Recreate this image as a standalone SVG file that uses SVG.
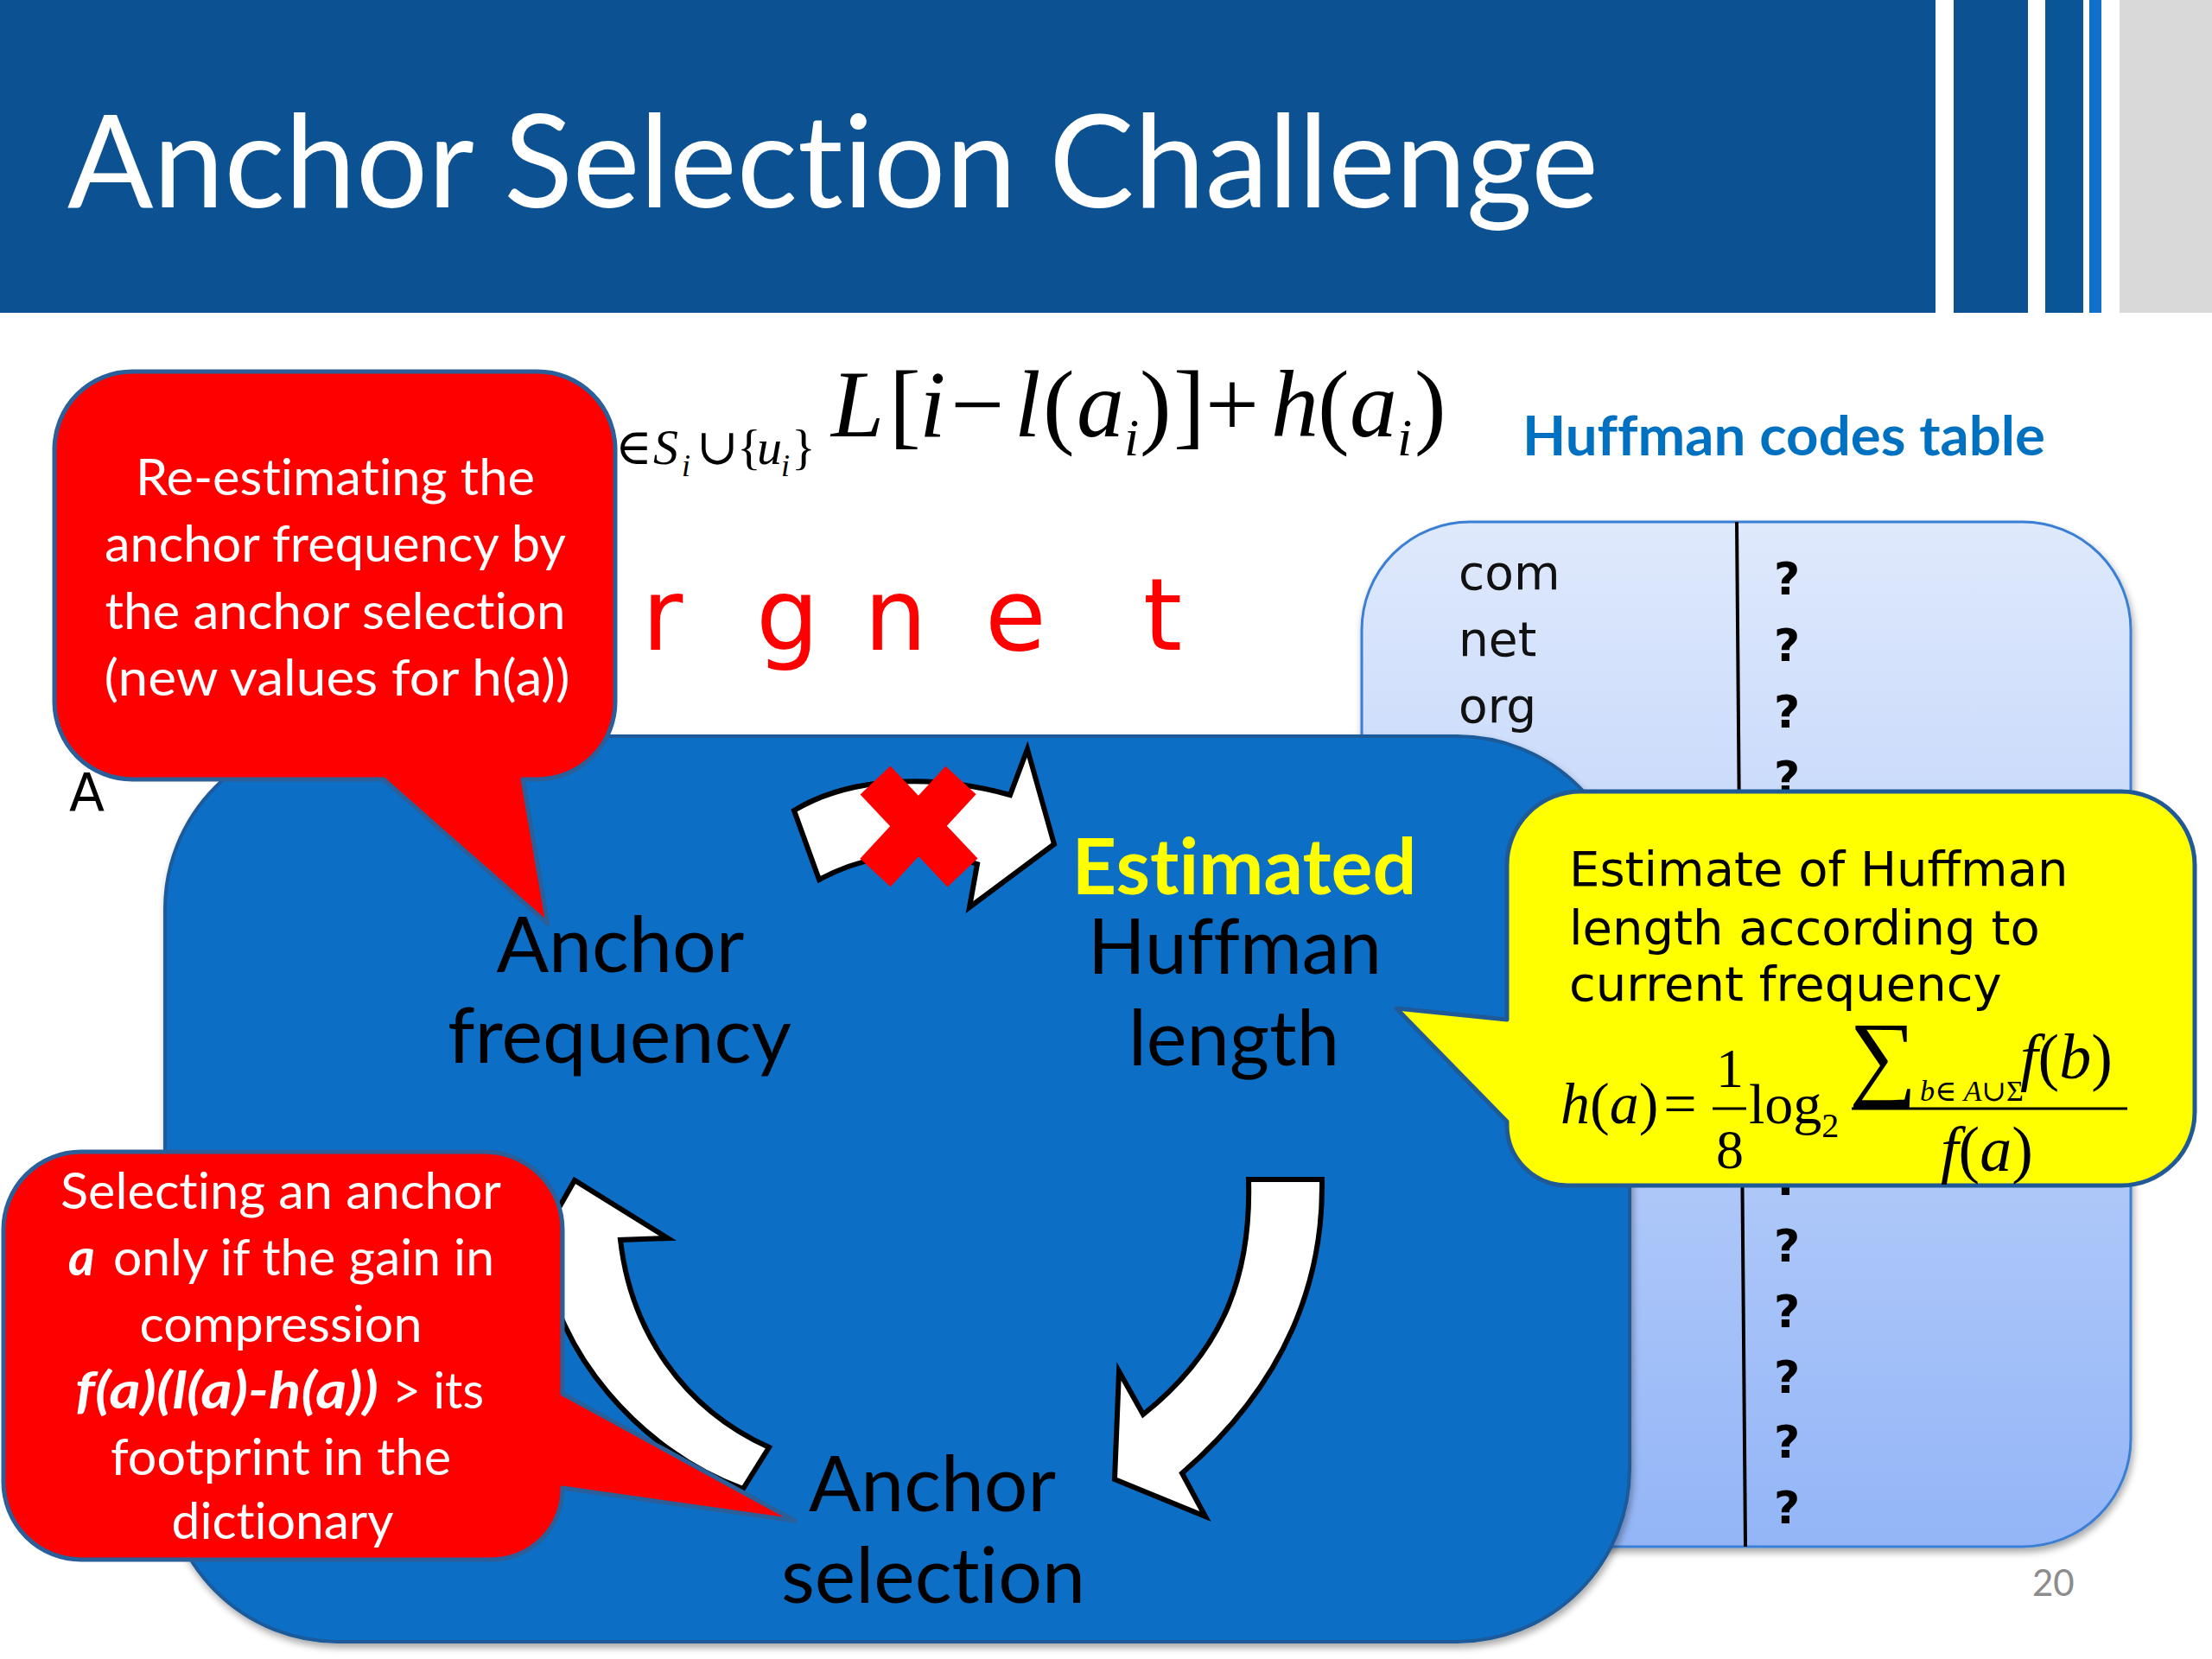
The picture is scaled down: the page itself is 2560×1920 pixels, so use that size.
<svg xmlns="http://www.w3.org/2000/svg" width="2560" height="1920" viewBox="0 0 2560 1920">
<defs>
<linearGradient id="tblGrad" x1="0" y1="0" x2="0" y2="1">
<stop offset="0" stop-color="#dfe9fc"/>
<stop offset="1" stop-color="#93b5f7"/>
</linearGradient>
<filter id="shadow" x="-5%" y="-5%" width="110%" height="110%">
<feGaussianBlur in="SourceAlpha" stdDeviation="4"/>
<feOffset dx="2" dy="5" result="b"/>
<feComponentTransfer><feFuncA type="linear" slope="0.35"/></feComponentTransfer>
<feMerge><feMergeNode/><feMergeNode in="SourceGraphic"/></feMerge>
</filter>
<style>
.cal{font-family:Lato,'Open Sans',sans-serif;font-variant-ligatures:none}
.ver{font-family:'DejaVu Sans',Verdana,sans-serif}
.mth{font-family:'Liberation Serif','Times New Roman','DejaVu Serif',serif}
.it{font-style:italic}
.big{font-size:89px;fill:#000}
.call{font-size:59px;fill:#fff}
.q{font-family:'DejaVu Sans',sans-serif;font-weight:bold;font-size:52px;fill:#000}
.lab{font-size:55px;fill:#111}
.arrow{fill:#fff;stroke:#000;stroke-width:6;stroke-linejoin:miter}
.redc{fill:#ff0000;stroke:#2a5f99;stroke-width:5;stroke-linejoin:round}
</style>
</defs>
<rect width="2560" height="1920" fill="#fff"/>

<g id="header">
<rect x="0" y="0" width="2240" height="362" fill="#0c5292"/>
<rect x="2261" y="0" width="86" height="362" fill="#0c5292"/>
<rect x="2367" y="0" width="44" height="362" fill="#0a5596"/>
<rect x="2418" y="0" width="14" height="362" fill="#1170cc"/>
<rect x="2453" y="0" width="107" height="362" fill="#d9d9d9"/>
<text class="cal" x="78" y="240" font-size="150" fill="#fff" textLength="1772" lengthAdjust="spacingAndGlyphs">Anchor Selection Challenge</text>
</g>

<g id="formula-top" class="mth" fill="#000">
<text y="537" font-size="58"><tspan x="712">∈</tspan><tspan x="756" class="it">S</tspan><tspan x="789" dy="14" font-size="36" class="it">i</tspan><tspan x="806" dy="-14">∪</tspan><tspan x="853">{</tspan><tspan x="876" class="it">u</tspan><tspan x="904" dy="14" font-size="36" class="it">i</tspan><tspan x="916" dy="-14">}</tspan></text>
<text y="505" font-size="110"><tspan x="962" class="it">L</tspan><tspan x="1029">[</tspan><tspan x="1064" class="it">i</tspan><tspan x="1100">−</tspan><tspan x="1174" class="it">l</tspan><tspan x="1207">(</tspan><tspan x="1246" class="it">a</tspan><tspan x="1301" dy="22" font-size="62" class="it">i</tspan><tspan x="1319" dy="-22">)</tspan><tspan x="1358">]</tspan><tspan x="1395">+</tspan><tspan x="1471" class="it">h</tspan><tspan x="1525">(</tspan><tspan x="1562" class="it">a</tspan><tspan x="1617" dy="22" font-size="62" class="it">i</tspan><tspan x="1637" dy="-22">)</tspan></text>
</g>

<g id="table-title">
<text class="cal" x="1762" y="527" font-size="64" font-weight="bold" fill="#0070c0" textLength="605" lengthAdjust="spacingAndGlyphs">Huffman codes table</text>
</g>

<g id="huffman-table">
<rect x="1576" y="604" width="890" height="1186" rx="125" ry="125" fill="url(#tblGrad)" stroke="#3b7fd4" stroke-width="3" filter="url(#shadow)"/>
<line x1="2010" y1="604" x2="2020" y2="1790" stroke="#000" stroke-width="4"/>
<text class="ver lab" x="1688" y="682">com</text>
<text class="ver lab" x="1688" y="759">net</text>
<text class="ver lab" x="1688" y="836">org</text>
<text class="q" x="2053" y="688">?</text>
<text class="q" x="2053" y="765">?</text>
<text class="q" x="2053" y="842">?</text>
<text class="q" x="2053" y="918">?</text>
<text class="q" x="2053" y="1383">?</text>
<text class="q" x="2053" y="1460">?</text>
<text class="q" x="2053" y="1536">?</text>
<text class="q" x="2053" y="1612">?</text>
<text class="q" x="2053" y="1687">?</text>
<text class="q" x="2053" y="1763">?</text>
</g>

<g id="string-letters" class="ver" font-size="115" fill="#ff0000">
<text y="752"><tspan x="743">r</tspan> <tspan x="875">g</tspan> <tspan x="1000">n</tspan> <tspan x="1140">e</tspan> <tspan x="1323">t</tspan></text>
</g>
<g id="letter-a">
<text class="ver" x="80" y="938" font-size="60" fill="#000">A</text>
</g>

<g id="cycle-box">
<rect x="191" y="852" width="1695" height="1048" rx="200" ry="200" fill="#0f6ec6" stroke="#1a5a9a" stroke-width="4" filter="url(#shadow)"/>
</g>

<g id="connectors">
<path class="arrow" d="M 919,938 C 990,895 1090,898 1169,920 L 1189,867 L 1220,977 L 1122,1050 L 1131,1000 C 1070,978 1000,990 948,1018 Z"/>
<g id="cross" stroke="#ff0000" stroke-width="48" stroke-linecap="butt">
<line x1="1013" y1="903" x2="1114" y2="1010"/>
<line x1="1112" y1="903" x2="1013" y2="1010"/>
</g>
<path class="arrow" d="M 1445,1365 L 1530,1365 C 1532,1480 1490,1600 1368,1705 L 1395,1755 L 1290,1712 L 1295,1587 L 1323,1637 C 1420,1560 1448,1470 1445,1365 Z"/>
<path class="arrow" d="M 860,1723 L 890,1675 C 790,1630 730,1540 718,1435 L 773,1433 L 665,1366 L 600,1480 L 632,1455 C 640,1560 740,1680 860,1723 Z"/>
</g>

<g id="node-anchor-frequency" class="cal big" text-anchor="middle">
<text x="718" y="1125" textLength="287" lengthAdjust="spacingAndGlyphs">Anchor</text>
<text x="717" y="1230" textLength="398" lengthAdjust="spacingAndGlyphs">frequency</text>
</g>
<g id="node-estimated-huffman-length" class="cal big" text-anchor="middle">
<text x="1440" y="1035" font-weight="bold" fill="#ffff00" textLength="399" lengthAdjust="spacingAndGlyphs">Estimated</text>
<text x="1429" y="1127" textLength="340" lengthAdjust="spacingAndGlyphs">Huffman</text>
<text x="1428" y="1233" textLength="244" lengthAdjust="spacingAndGlyphs">length</text>
</g>
<g id="node-anchor-selection" class="cal big" text-anchor="middle">
<text x="1079" y="1749" textLength="286" lengthAdjust="spacingAndGlyphs">Anchor</text>
<text x="1080" y="1855" textLength="352" lengthAdjust="spacingAndGlyphs">selection</text>
</g>

<g id="callout-estimate">
<path d="M 1829,916 H 2455 A 85 85 0 0 1 2540,1001 V 1287 A 85 85 0 0 1 2455,1372 H 1814 A 70 70 0 0 1 1744,1302 V 1298 L 1616,1167 L 1744,1180 V 1001 A 85 85 0 0 1 1829,916 Z" fill="#ffff00" stroke="#1f5a96" stroke-width="5" stroke-linejoin="round"/>
<text class="ver" font-size="56" fill="#000"><tspan x="1816" y="1025">Estimate of Huffman</tspan><tspan x="1816" y="1093">length according to</tspan><tspan x="1816" y="1158">current frequency</tspan></text>
<g class="mth" fill="#000">
<text x="1806" y="1300" font-size="68"><tspan class="it">h</tspan>(<tspan class="it">a</tspan>)<tspan dx="6">=</tspan></text>
<text x="2002" y="1258" font-size="64" text-anchor="middle">1</text>
<line x1="1982" y1="1283" x2="2021" y2="1283" stroke="#000" stroke-width="3"/>
<text x="2002" y="1352" font-size="64" text-anchor="middle">8</text>
<text x="2024" y="1300" font-size="66">log<tspan font-size="40" dy="16">2</tspan></text>
<text x="2140" y="1259" font-size="110">∑</text>
<text x="2222" y="1274" font-size="34"><tspan class="it">b</tspan>∈ <tspan class="it">A</tspan>∪Σ</text>
<text x="2338" y="1248" font-size="74"><tspan class="it">f</tspan>(<tspan class="it">b</tspan>)</text>
<line x1="2143" y1="1283" x2="2462" y2="1283" stroke="#000" stroke-width="3"/>
<text x="2246" y="1355" font-size="74"><tspan class="it">f</tspan>(<tspan class="it">a</tspan>)</text>
</g>
</g>

<g id="callout-reestimate">
<path class="redc" d="M 153,430 H 622 A 90 90 0 0 1 712,520 V 812 A 90 90 0 0 1 622,902 H 605 L 634,1069 L 444,902 H 153 A 90 90 0 0 1 63,812 V 520 A 90 90 0 0 1 153,430 Z"/>
<g class="cal call" text-anchor="middle">
<text x="388" y="573" textLength="462" lengthAdjust="spacingAndGlyphs">Re-estimating the</text>
<text x="388" y="650" textLength="534" lengthAdjust="spacingAndGlyphs">anchor frequency by</text>
<text x="388" y="728" textLength="533" lengthAdjust="spacingAndGlyphs">the anchor selection</text>
<text x="390" y="805" textLength="539" lengthAdjust="spacingAndGlyphs">(new values for h(a))</text>
</g>
</g>

<g id="callout-selecting">
<path class="redc" d="M 94,1333 H 561 A 90 90 0 0 1 651,1423 V 1613 L 920,1760 L 651,1722 A 82 82 0 0 1 569,1805 H 94 A 90 90 0 0 1 4,1715 V 1423 A 90 90 0 0 1 94,1333 Z"/>
<g class="cal call">
<text x="325" y="1399" text-anchor="middle" textLength="510" lengthAdjust="spacingAndGlyphs">Selecting an anchor</text>
<text x="79" y="1476" font-weight="bold" font-style="italic">a</text>
<text x="131" y="1476" textLength="441" lengthAdjust="spacingAndGlyphs">only if the gain in</text>
<text x="325" y="1553" text-anchor="middle" textLength="327" lengthAdjust="spacingAndGlyphs">compression</text>
<text x="87" y="1630" font-weight="bold" font-style="italic" textLength="351" lengthAdjust="spacingAndGlyphs">f(a)(l(a)-h(a))</text>
<text x="454" y="1630" textLength="106" lengthAdjust="spacingAndGlyphs">&gt; its</text>
<text x="325" y="1707" text-anchor="middle" textLength="394" lengthAdjust="spacingAndGlyphs">footprint in the</text>
<text x="327" y="1781" text-anchor="middle" textLength="257" lengthAdjust="spacingAndGlyphs">dictionary</text>
</g>
</g>

<g id="page-number">
<text class="cal" x="2352" y="1847" font-size="42" fill="#8c8c8c">20</text>
</g>
</svg>
